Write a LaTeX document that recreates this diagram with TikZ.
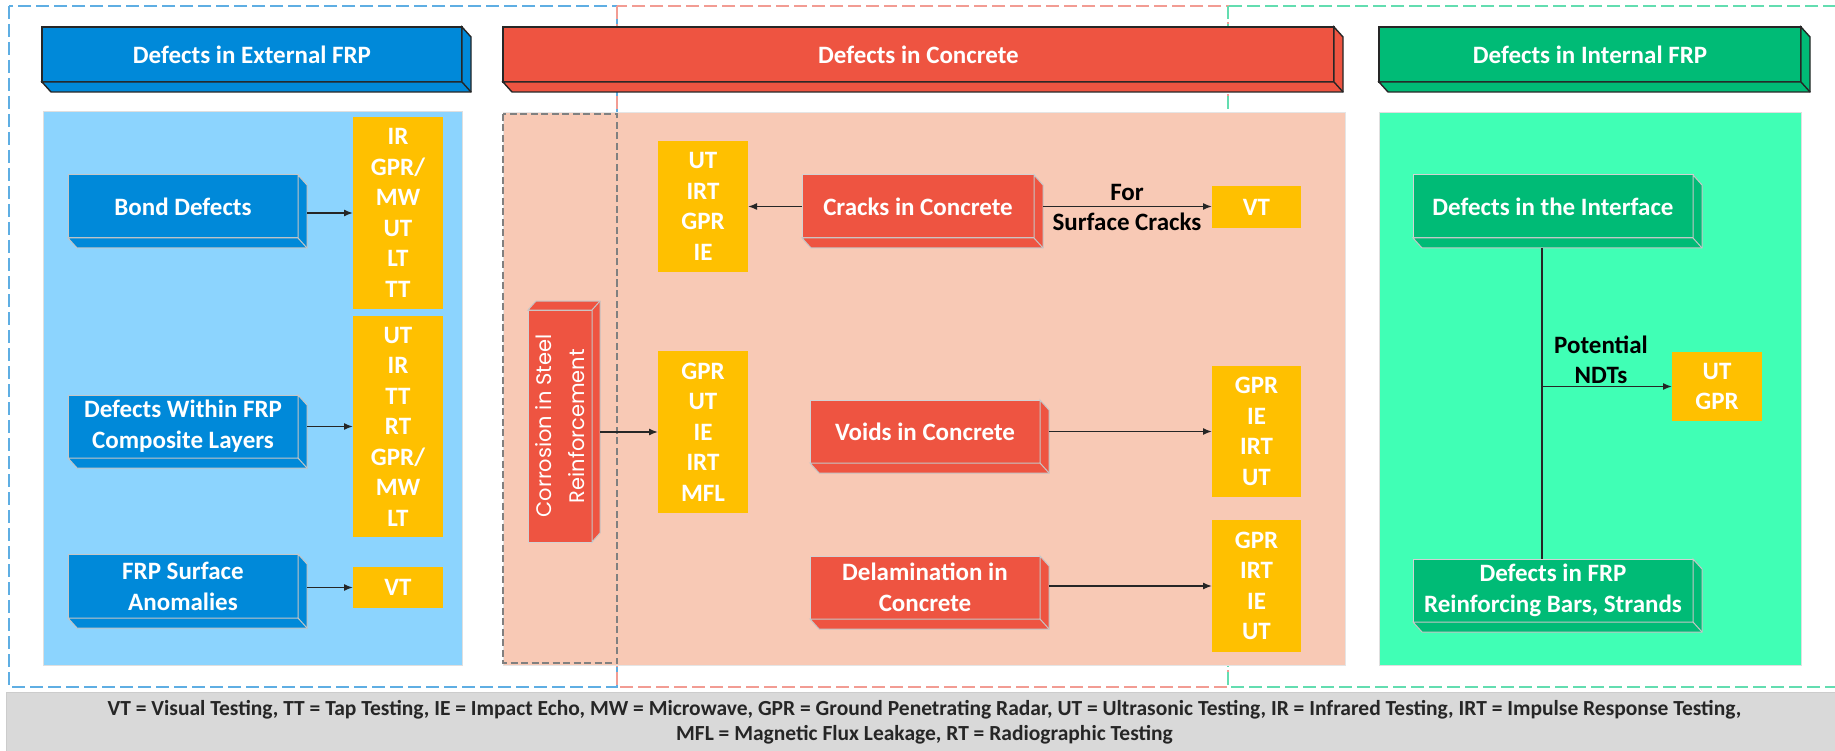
\documentclass[tikz,border=0pt]{standalone}
\usepackage{fontspec}
\setmainfont{Carlito}
\newfontfamily\corrfont{Poppins}
\usetikzlibrary{arrows.meta,calc}
\definecolor{blueF}{HTML}{0089D9}
\definecolor{blueP}{HTML}{8CD4FE}
\definecolor{redF}{HTML}{EE5441}
\definecolor{salmon}{HTML}{F8C9B5}
\definecolor{greenF}{HTML}{00BB76}
\definecolor{greenP}{HTML}{40FFB5}
\definecolor{yel}{HTML}{FFC000}
\definecolor{lgrey}{HTML}{D9D9D9}
\definecolor{dblue}{HTML}{5FAEE3}
\definecolor{dred}{HTML}{F29C93}
\definecolor{dgreen}{HTML}{63DDB0}
\definecolor{edge}{HTML}{262626}
\newcommand{\extrude}[4]{%
  \filldraw[#4] (#1.north east) -- ++(#2,#3) -- ($(#1.south east)+(#2,#3)$) -- ($(#1.south west)+(#2,#3)$) -- (#1.south west) -- (#1.south east) -- cycle;
  \draw[#4] (#1.south east) -- ++(#2,#3);}
\newcommand{\extrudeup}[4]{%
  \filldraw[#4] (#1.south east) -- ++(#2,#3) -- ($(#1.north east)+(#2,#3)$) -- ($(#1.north west)+(#2,#3)$) -- (#1.north west) -- (#1.north east) -- cycle;
  \draw[#4] (#1.north east) -- ++(#2,#3);}
\begin{document}
\begin{tikzpicture}[x=1pt,y=-1pt,
  lab/.style={font=\fontsize{25}{31}\selectfont\bfseries, text=white, align=center},
  face/.style={lab, rectangle, inner sep=0pt, outer sep=0pt, line width=1pt},
  head/.style={face, draw=edge, line width=1.4pt},
  headx/.style={draw=edge, line width=1.4pt},
  bbox/.style={face, fill=blueF, draw=gray!45},
  rbox/.style={face, fill=redF, draw=gray!35},
  gbox/.style={face, fill=greenF, draw=gray!35},
  boxx/.style={draw=gray!45, line width=1pt},
  ybox/.style={rectangle, fill=yel, inner sep=0pt, outer sep=0pt, text=white, align=center, font=\fontsize{25}{30.5}\selectfont\bfseries},
  arr/.style={draw=edge, line width=1.4pt, -{Latex[length=9pt,width=7pt]}},
  conn/.style={draw=edge, line width=1.4pt},
  note/.style={font=\fontsize{25}{30}\selectfont\bfseries, text=black, align=center, inner sep=0pt},
  dashb/.style={line width=2pt, dash pattern=on 13pt off 5pt},
  greydash/.style={draw=gray, line width=1.6pt, dash pattern=on 7pt off 3.5pt},
]
\useasboundingbox (0,0) rectangle (1835,751);
\fill[white] (0,0) rectangle (1835,751);
% dashed group outlines
\draw[dashb, dblue] (9,6) rectangle (617,687);
\draw[dashb, dred] (617,6) rectangle (1228,687);
\draw[dashb, dgreen] (1228,6) rectangle (1850,687);
% panels
\filldraw[fill=blueP, draw=gray!25, line width=1pt] (43,112) rectangle (462,665);
\filldraw[fill=salmon, draw=gray!20, line width=1pt] (503,113) rectangle (1345,665);
\draw[greydash] (503,114) rectangle (617,663);
\filldraw[fill=greenP, draw=gray!25, line width=1pt] (1379,113) rectangle (1801,665);
% headers
\node[head, fill=blueF, minimum width=420, minimum height=55] (hext) at (252,54.5) {Defects in External FRP};
\extrude{hext}{9}{10}{fill=blueF, headx}
\node[head, fill=redF, minimum width=831, minimum height=55] (hcon) at (918.5,54.5) {Defects in Concrete};
\extrude{hcon}{9}{10}{fill=redF, headx}
\node[head, fill=greenF, minimum width=422, minimum height=55] (hint) at (1590,54.5) {Defects in Internal FRP};
\extrude{hint}{9}{10}{fill=greenF, headx}
% external FRP boxes
\node[bbox, minimum width=230, minimum height=63] (bond) at (183,206.5) {Bond Defects};
\extrude{bond}{9}{10}{fill=blueF, boxx}
\node[bbox, minimum width=230, minimum height=63] (within) at (183,426.5) {Defects Within FRP\\Composite Layers};
\extrude{within}{9}{10}{fill=blueF, boxx}
\node[bbox, minimum width=230, minimum height=64] (surf) at (183,586) {FRP Surface\\Anomalies};
\extrude{surf}{9}{10}{fill=blueF, boxx}
\node[ybox, minimum width=90, minimum height=192] (y1) at (398,213) {IR\\GPR/\\MW\\UT\\LT\\TT};
\node[ybox, minimum width=90, minimum height=221] (y2) at (398,426.5) {UT\\IR\\TT\\RT\\GPR/\\MW\\LT};
\node[ybox, minimum width=90, minimum height=41] (y3) at (398,587.5) {VT};
\coordinate (bondR) at ($(bond.east)+(9,0)$);
\coordinate (withinR) at ($(within.east)+(9,0)$);
\coordinate (surfR) at ($(surf.east)+(9,0)$);
\draw[arr] (bondR |- y1.west) -- (y1.west);
\draw[arr] (withinR |- y2.west) -- (y2.west);
\draw[arr] (surfR |- y3.west) -- (y3.west);
% concrete
\node[rbox, minimum width=64, minimum height=232] (corr) at (560,426) {};
\extrudeup{corr}{8}{-9}{fill=redF, boxx}
\node[rotate=90, text=white, align=center, inner sep=0pt, font=\corrfont\fontsize{21}{33}\selectfont] (corrtxt) at (corr.center) {Corrosion in Steel\\Reinforcement};
\node[ybox, minimum width=90, minimum height=131] (c1) at (703,206.5) {UT\\IRT\\GPR\\IE};
\node[ybox, minimum width=90, minimum height=162] (c2) at (703,432) {GPR\\UT\\IE\\IRT\\MFL};
\node[rbox, minimum width=232, minimum height=63] (cracks) at (918,206.5) {Cracks in Concrete};
\extrude{cracks}{9}{10}{fill=redF, boxx}
\node[rbox, minimum width=230, minimum height=63] (voids) at (925,431.5) {Voids in Concrete};
\extrude{voids}{9}{10}{fill=redF, boxx}
\node[rbox, minimum width=230, minimum height=63] (delam) at (925,587.5) {Delamination in\\Concrete};
\extrude{delam}{9}{10}{fill=redF, boxx}
\node[ybox, minimum width=89, minimum height=42] (vt) at (1256.5,207) {VT};
\node[ybox, minimum width=89, minimum height=131] (v1) at (1256.5,431.5) {GPR\\IE\\IRT\\UT};
\node[ybox, minimum width=89, minimum height=132] (v2) at (1256.5,586) {GPR\\IRT\\IE\\UT};
\coordinate (corrR) at ($(corr.east)+(8,0)$);
\coordinate (crackR) at ($(cracks.east)+(9,0)$);
\coordinate (voidR) at ($(voids.east)+(9,0)$);
\coordinate (delamR) at ($(delam.east)+(9,0)$);
\draw[arr] (cracks.west) -- (cracks.west -| c1.east);
\draw[arr] (crackR) -- (crackR -| vt.west);
\draw[arr] (corrR |- c2.west) -- (c2.west);
\draw[arr] (voidR) -- (voidR -| v1.west);
\draw[arr] (delamR |- v2.west) -- (v2.west);
\node[note] (forlbl) at (1127,207) {For\\Surface Cracks};
% internal FRP
\node[gbox, minimum width=280, minimum height=63] (iface) at (1553,206.5) {Defects in the Interface};
\extrude{iface}{9}{10}{fill=greenF, boxx}
\node[gbox, minimum width=280, minimum height=63] (bars) at (1553,590.5) {Defects in FRP\\Reinforcing Bars, Strands};
\extrude{bars}{9}{10}{fill=greenF, boxx}
\node[ybox, minimum width=90, minimum height=69] (ut) at (1717,386.5) {UT\\GPR};
\coordinate (vx) at (1542,0);
\coordinate (ib) at ($(iface.south)+(0,10)$);
\draw[conn] (ib -| vx) -- (bars.north -| vx);
\draw[arr] (vx |- ut.west) -- (ut.west);
\node[note] (pot) at (1601,360) {Potential\\NDTs};
% legend
\node[fill=lgrey, draw=gray!40, line width=1pt, minimum width=1829, minimum height=59, inner sep=0pt, anchor=north west] (legend) at (6,692) {};
\node[align=center, inner sep=0pt, text=edge, font=\fontsize{21.5}{25}\selectfont\bfseries] (legtxt) at (924.5,722) {VT = Visual Testing, TT = Tap Testing, IE = Impact Echo, MW = Microwave, GPR = Ground Penetrating Radar, UT = Ultrasonic Testing, IR = Infrared Testing, IRT = Impulse Response Testing,\\MFL = Magnetic Flux Leakage, RT = Radiographic Testing};
\end{tikzpicture}
\end{document}
